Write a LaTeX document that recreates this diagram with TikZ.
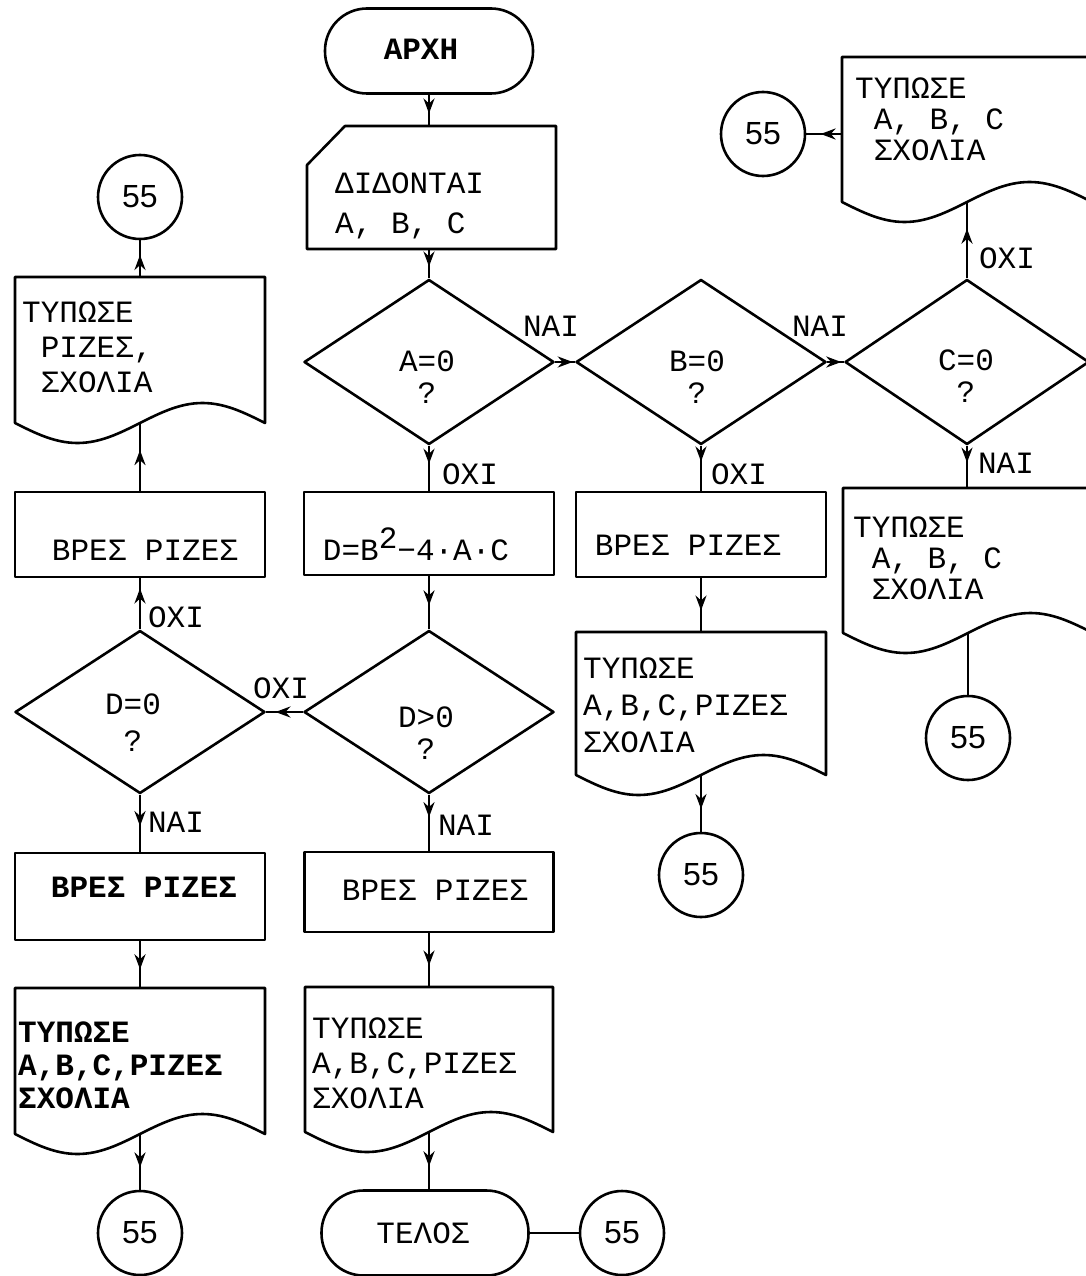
\documentclass[tikz,border=0pt]{standalone}
\usepackage{fontspec}
\newfontfamily\flowmono{Liberation Mono}
\newfontfamily\flowsans{Liberation Sans}
\usetikzlibrary{shapes.geometric,arrows.meta,decorations.markings}
% document symbol: #1 name, #2 x0, #3 ytop, #4 x1, #5 ybottom (pixels, y downwards)
\newcommand\docshape[5]{%
  \node[area, minimum width=#4pt-#2pt, minimum height=#5pt-#3pt] (#1) at (#2,-#3) {};
  \draw[flow] (#1.south west) -- (#1.north west) -- (#1.north east) -- (#1.south east)
    sin ++({-(#4-#2)/4},20) cos ++({-(#4-#2)/4},-20)
    sin ++({-(#4-#2)/4},-20) cos ++({-(#4-#2)/4},20) -- cycle;
}
\begin{document}
\begin{tikzpicture}[x=1pt,y=1pt,
  flow/.style={line width=2.6pt, line join=round},
  midarrow/.style={postaction={decorate}, decoration={markings,
      mark=at position #1 with {\arrow{Stealth[length=15pt,width=11pt]}}}},
  proc/.style={draw, flow, rectangle, inner sep=0pt},
  dec/.style={draw, flow, diamond, inner sep=0pt, minimum width=250pt, minimum height=165pt},
  conn/.style={draw, flow, circle, inner sep=0pt, minimum size=84pt,
      font=\flowsans\fontsize{32}{32}\selectfont},
  term/.style={draw, flow, rectangle, rounded corners=42pt, minimum width=208pt,
      minimum height=85pt, inner sep=0pt},
  area/.style={rectangle, inner sep=0pt, outer sep=0pt, anchor=north west},
  txt/.style={inner sep=0pt, font=\flowmono\fontsize{31}{35}\selectfont},
  btxt/.style={inner sep=0pt, font=\flowmono\bfseries\fontsize{31}{35}\selectfont},
  ml/.style={align=left, anchor=north west, font=\flowmono\fontsize{31}{#1}\selectfont, inner sep=0pt},
  mc/.style={align=center, inner sep=0pt, font=\flowmono\fontsize{31}{#1}\selectfont},
]
\useasboundingbox (0,0) rectangle (1086,-1276);
\fill[white] (0,0) rectangle (1086,-1276);
\clip (0,0) rectangle (1086,-1276);

% ---------- centre column ----------
\node[term] (start) at (429,-51) {};
\node[btxt] (tstart) at (421,-49) {ΑΡΧΗ};

\node[area, minimum width=249pt, minimum height=123pt] (inp) at (307,-126) {};
\draw[flow] (inp.south west) -- ([yshift=-39pt]inp.north west) -- ([xshift=38pt]inp.north west)
  -- (inp.north east) -- (inp.south east) -- cycle;
\node[ml=40] (tinp) at (335,-173) {ΔΙΔΟΝΤΑΙ\\A, B, C};

\node[dec] (dA) at (429,-362) {};
\node[mc=32] (tA) at (427,-377) {A=0\\?};

\node[proc, minimum width=250pt, minimum height=83pt] (boxD) at (429,-533.5) {};
\node[txt, anchor=base] (tboxD) at (416,-560) {D=B\raisebox{12pt}{2}−4·A·C};

\node[dec, minimum height=163pt] (dDp) at (429,-712) {};
\node[mc=32] (tDp) at (426,-733) {D>0\\?};

\node[proc, minimum width=249pt, minimum height=80pt] (boxM) at (429,-892) {};
\node[txt] (tboxM) at (435,-890) {ΒΡΕΣ ΡΙΖΕΣ};

\docshape{docM}{305}{987}{553}{1132}
\node[ml=35] (tdocM) at (312,-1018) {ΤΥΠΩΣΕ\\A,B,C,ΡΙΖΕΣ\\ΣΧΟΛΙΑ};

\node[term, minimum width=207pt] (tend) at (425,-1233) {};
\node[txt] (ttend) at (423,-1233) {ΤΕΛΟΣ};
\node[conn] (c3) at (622,-1233) {55};

% ---------- B column ----------
\node[dec] (dB) at (701,-362) {};
\node[mc=32] (tB) at (697,-377) {B=0\\?};
\node[proc, minimum width=250pt, minimum height=85pt] (boxR) at (701,-534.5) {};
\node[txt] (tboxR) at (688,-545) {ΒΡΕΣ ΡΙΖΕΣ};
\docshape{docR}{576}{632}{826}{775}
\node[ml=37] (tdocR) at (583,-658) {ΤΥΠΩΣΕ\\A,B,C,ΡΙΖΕΣ\\ΣΧΟΛΙΑ};
\node[conn] (c4) at (701,-875) {55};

% ---------- C column ----------
\node[dec, minimum width=244pt] (dC) at (967,-362) {};
\node[mc=32] (tC) at (966,-376) {C=0\\?};
\docshape{topdoc}{842}{57}{1092}{202}
\node[ml=31] (ttop) at (855,-78) {ΤΥΠΩΣΕ\\~A, B, C\\~ΣΧΟΛΙΑ};
\node[conn] (c1) at (763,-134) {55};
\docshape{lowdoc}{843}{488}{1093}{633}
\node[ml=31] (tlow) at (853,-517) {ΤΥΠΩΣΕ\\~A, B, C\\~ΣΧΟΛΙΑ};
\node[conn] (c2) at (968,-738) {55};

% ---------- left column ----------
\node[dec, minimum height=163pt] (dD0) at (140,-712) {};
\node[mc=37] (tD0) at (133,-723) {D=0\\?};
\node[proc, minimum width=250pt, minimum height=85pt] (boxLtop) at (140,-534.5) {};
\node[txt] (tboxLtop) at (145,-550) {ΒΡΕΣ ΡΙΖΕΣ};
\docshape{docLtop}{15}{277}{265}{423}
\node[ml=35] (tdocLtop) at (22,-302) {ΤΥΠΩΣΕ\\~ΡΙΖΕΣ,\\~ΣΧΟΛΙΑ};
\node[conn] (cLtop) at (140,-197) {55};
\node[proc, minimum width=250pt, minimum height=87pt] (boxL0) at (140,-896.5) {};
\node[btxt] (tboxL0) at (144,-887) {ΒΡΕΣ ΡΙΖΕΣ};
\docshape{docL}{15}{988}{265}{1134}
\node[ml=33, font=\flowmono\bfseries\fontsize{31}{33}\selectfont] (tdocL) at (18,-1022) {ΤΥΠΩΣΕ\\A,B,C,ΡΙΖΕΣ\\ΣΧΟΛΙΑ};
\node[conn] (cL) at (140,-1233) {55};

% ---------- labels ----------
\node[txt] (lNaiA) at (551,-326) {ΝΑΙ};
\node[txt] (lNaiB) at (820,-326) {ΝΑΙ};
\node[txt] (lOxiC) at (1007,-258) {ΟΧΙ};
\node[txt] (lNaiC) at (1006,-463) {ΝΑΙ};
\node[txt] (lOxiA) at (470,-474) {ΟΧΙ};
\node[txt] (lOxiB) at (739,-474) {ΟΧΙ};
\node[txt] (lOxiDp) at (281,-688) {ΟΧΙ};
\node[txt] (lNaiDp) at (466,-825) {ΝΑΙ};
\node[txt] (lOxiD0) at (176,-617) {ΟΧΙ};
\node[txt] (lNaiD0) at (176,-822) {ΝΑΙ};

% ---------- connectors ----------
\draw[flow, midarrow=0.6] (start.south) -- (start.south |- inp.north);
\draw[flow, midarrow=0.6] (dA.north |- inp.south) -- (dA.north);
\draw[flow, midarrow=0.9] (dA.east) -- (dB.west);
\draw[flow, midarrow=0.85] (dB.east) -- (dC.west);
\draw[flow, midarrow=0.65] (dC.north) -- (dC.north |- topdoc.south);
\draw[flow, midarrow=0.6] (c1.east -| topdoc.west) -- (c1.east);
\draw[flow, midarrow=0.4] (dC.south) -- (dC.south |- lowdoc.north);
\draw[flow] (lowdoc.south) -- (lowdoc.south |- c2.north);

\draw[flow, midarrow=0.4] (dA.south) -- (dA.south |- boxD.north);
\draw[flow, midarrow=0.55] (boxD.south) -- (dDp.north);
\draw[flow, midarrow=0.75] (dDp.west) -- (dD0.east);
\draw[flow, midarrow=0.4] (dDp.south) -- (dDp.south |- boxM.north);
\draw[flow, midarrow=0.6] (boxM.south) -- (boxM.south |- docM.north);
\draw[flow, midarrow=0.6] (docM.south) -- (docM.south |- tend.north);
\draw[flow] (tend.east) -- (c3.west);

\draw[flow, midarrow=0.35] (dB.south) -- (dB.south |- boxR.north);
\draw[flow, midarrow=0.6] (boxR.south) -- (boxR.south |- docR.north);
\draw[flow, midarrow=0.6] (docR.south) -- (docR.south |- c4.north);

\draw[flow, midarrow=0.55] (dD0.south) -- (dD0.south |- boxL0.north);
\draw[flow, midarrow=0.6] (boxL0.south) -- (boxL0.south |- docL.north);
\draw[flow, midarrow=0.6] (docL.south) -- (docL.south |- cL.north);
\draw[flow, midarrow=0.8] (dD0.north) -- (dD0.north |- boxLtop.south);
\draw[flow, midarrow=0.6] (boxLtop.north) -- (boxLtop.north |- docLtop.south);
\draw[flow, midarrow=0.6] (docLtop.north) -- (docLtop.north |- cLtop.south);
\end{tikzpicture}
\end{document}
